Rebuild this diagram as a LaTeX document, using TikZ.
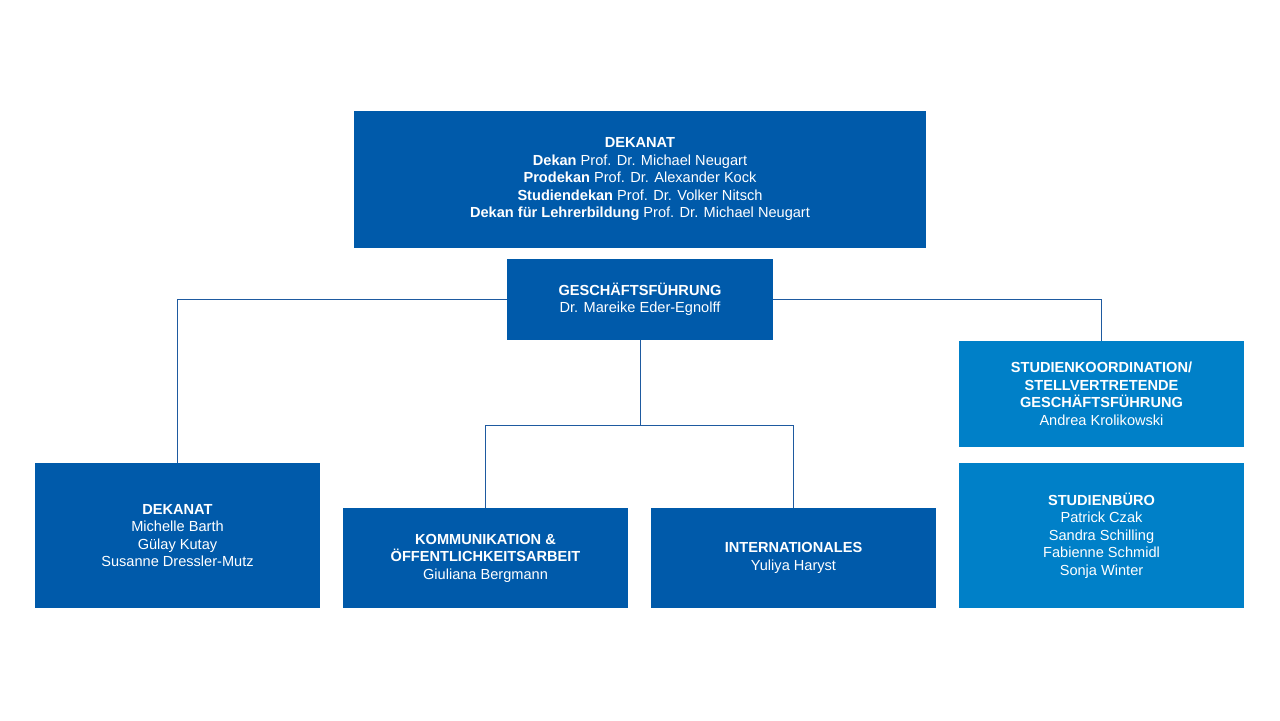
\documentclass[tikz,border=0pt]{standalone}
\usepackage{fontspec}
\setmainfont{Liberation Sans}
\definecolor{uniblau}{RGB}{0,90,170}
\definecolor{hellblau}{RGB}{0,128,200}
\definecolor{linienblau}{RGB}{30,90,160}
\begin{document}
\begin{tikzpicture}[x=0.02cm,y=-0.02cm,
	box/.style={fill=uniblau,text=white,align=center,inner sep=0pt,font=\fontsize{8.3}{9.96}\selectfont},
	hellbox/.style={box,fill=hellblau},
	linie/.style={draw=linienblau,line width=0.5pt}]
	\useasboundingbox[fill=white] (0,0) rectangle (1280,720);
	\node[box,minimum width=11.44cm,minimum height=2.74cm] (dekanat) at (640,179.5){\textbf{DEKANAT}\\\textbf{Dekan} Prof. Dr. Michael Neugart\\\textbf{Prodekan} Prof. Dr. Alexander Kock\\\textbf{Studiendekan} Prof. Dr. Volker Nitsch\\\textbf{Dekan für Lehrerbildung} Prof. Dr. Michael Neugart};
	\node[box,minimum width=5.32cm,minimum height=1.62cm] (gf) at (640,299.5){\textbf{GESCHÄFTSFÜHRUNG}\\Dr. Mareike Eder-Egnolff};
	\node[box,minimum width=5.7cm,minimum height=2.9cm] (dek) at (177.5,535.5){\textbf{DEKANAT}\\Michelle Barth\\Gülay Kutay\\Susanne Dressler-Mutz};
	\node[box,minimum width=5.7cm,minimum height=2cm] (komm) at (485.5,558){\textbf{KOMMUNIKATION \&}\\\textbf{ÖFFENTLICHKEITSARBEIT}\\Giuliana Bergmann};
	\node[box,minimum width=5.7cm,minimum height=2cm] (intl) at (793.5,558){\textbf{INTERNATIONALES}\\Yuliya Haryst};
	\node[hellbox,minimum width=5.7cm,minimum height=2.12cm] (koord) at (1101.5,394){\textbf{STUDIENKOORDINATION/}\\\textbf{STELLVERTRETENDE}\\\textbf{GESCHÄFTSFÜHRUNG}\\Andrea Krolikowski};
	\node[hellbox,minimum width=5.7cm,minimum height=2.9cm] (buero) at (1101.5,535.5){\textbf{STUDIENBÜRO}\\Patrick Czak\\Sandra Schilling\\Fabienne Schmidl\\Sonja Winter};
	% Verbindungen
	\coordinate (split) at (640,425);
	\draw[linie] (gf.west) -| (dek.north);
	\draw[linie] (gf.east) -| (koord.north);
	\draw[linie] (gf.south) -- (split) -| (komm.north);
	\draw[linie] (split) -| (intl.north);
\end{tikzpicture}
\end{document}
